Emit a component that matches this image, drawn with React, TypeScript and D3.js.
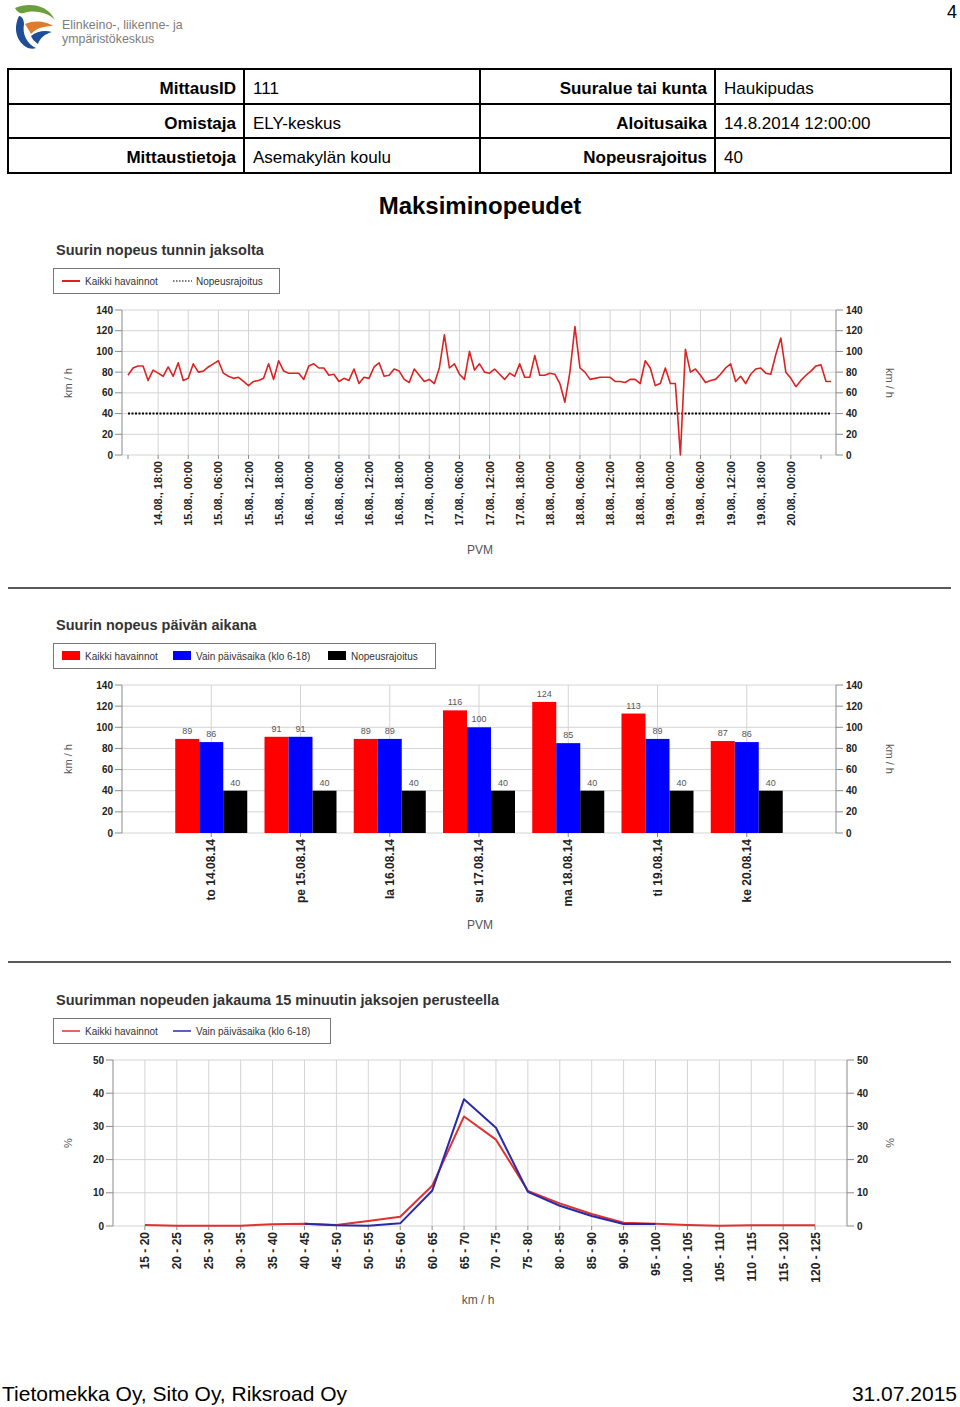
import React from 'react';
import * as d3 from 'd3';

// ---------- DATA ----------
const headerRows = [
  ['MittausID', '111', 'Suuralue tai kunta', 'Haukipudas'],
  ['Omistaja', 'ELY-keskus', 'Aloitusaika', '14.8.2014 12:00:00'],
  ['Mittaustietoja', 'Asemakylän koulu', 'Nopeusrajoitus', '40'],
];

// hourly max speed, starting 14.08. 12:00
const hourlyMax = [
  77, 84, 86, 86, 72, 82, 79, 76, 85, 76, 89, 72, 74, 88, 80, 81, 85, 88, 91, 79,
  76, 74, 75, 71, 67, 71, 72, 74, 88, 73, 91, 81, 79, 79, 79, 73, 86, 88, 84, 84,
  77, 78, 71, 74, 72, 83, 69, 75, 74, 85, 89, 76, 77, 83, 81, 73, 70, 83, 77, 71,
  73, 69, 84, 116, 84, 88, 78, 73, 100, 82, 88, 80, 79, 83, 78, 73, 79, 76, 88, 75,
  75, 96, 77, 77, 79, 78, 69, 51, 80, 124, 84, 80, 73, 74, 75, 75, 75, 71, 71, 70,
  73, 73, 69, 91, 84, 67, 69, 84, 69, 69, 0, 102, 80, 83, 77, 70, 72, 73, 78, 84,
  88, 71, 76, 69, 78, 83, 84, 79, 78, 97, 113, 80, 74, 66, 72, 77, 81, 86, 87, 71,
  71,
];
const hourlySpeedLimit = 40;
const hourTickLabels = [
  '14.08., 18:00', '15.08., 00:00', '15.08., 06:00', '15.08., 12:00', '15.08., 18:00',
  '16.08., 00:00', '16.08., 06:00', '16.08., 12:00', '16.08., 18:00', '17.08., 00:00',
  '17.08., 06:00', '17.08., 12:00', '17.08., 18:00', '18.08., 00:00', '18.08., 06:00',
  '18.08., 12:00', '18.08., 18:00', '19.08., 00:00', '19.08., 06:00', '19.08., 12:00',
  '19.08., 18:00', '20.08., 00:00',
];

const days = ['to 14.08.14', 'pe 15.08.14', 'la 16.08.14', 'su 17.08.14', 'ma 18.08.14', 'ti 19.08.14', 'ke 20.08.14'];
const dayAll = [89, 91, 89, 116, 124, 113, 87];
const dayDaytime = [86, 91, 89, 100, 85, 89, 86];
const dayLimit = [40, 40, 40, 40, 40, 40, 40];

const speedClasses = [
  '15 - 20', '20 - 25', '25 - 30', '30 - 35', '35 - 40', '40 - 45', '45 - 50', '50 - 55',
  '55 - 60', '60 - 65', '65 - 70', '70 - 75', '75 - 80', '80 - 85', '85 - 90', '90 - 95',
  '95 - 100', '100 - 105', '105 - 110', '110 - 115', '115 - 120', '120 - 125',
];
const distAll = [0.3, 0.1, 0.1, 0.1, 0.5, 0.7, 0.3, 1.5, 2.8, 12.1, 33, 26, 10.6, 6.8, 3.6, 1.0, 0.7, 0.3, 0.1, 0.2, 0.2, 0.2];
const distDay: (number | null)[] = [null, null, null, null, null, 0.7, 0.2, 0.1, 0.8, 10.6, 38.2, 29.6, 10.3, 6.1, 3.0, 0.6, 0.6, null, null, null, null, null];

const ticks140 = [0, 20, 40, 60, 80, 100, 120, 140];
const ticks50 = [0, 10, 20, 30, 40, 50];

// ---------- STYLE ----------
const FONT = 'Liberation Sans, Arial, Helvetica, sans-serif';
const GRID = '#d4d4d4';
const AXIS = '#8a8a8a';
const TXT = '#222';

function YAxes({ y, ticks, left, right }: { y: d3.ScaleLinear<number, number>; ticks: number[]; left: number; right: number }) {
  return (
    <g fontFamily={FONT} fontSize={10} fontWeight="bold" fill={TXT}>
      {ticks.map((t) => (
        <line key={'g' + t} x1={left} x2={right} y1={y(t)} y2={y(t)} stroke={GRID} strokeWidth={1} />
      ))}
      <line x1={left} x2={left} y1={y.range()[0]} y2={y.range()[1]} stroke={AXIS} />
      <line x1={right} x2={right} y1={y.range()[0]} y2={y.range()[1]} stroke={AXIS} />
      {ticks.map((t) => (
        <g key={'t' + t}>
          <line x1={left - 7} x2={left} y1={y(t)} y2={y(t)} stroke={AXIS} />
          <line x1={right} x2={right + 7} y1={y(t)} y2={y(t)} stroke={AXIS} />
          <text x={left - 9} y={y(t) + 3.5} textAnchor="end">{t}</text>
          <text x={right + 10} y={y(t) + 3.5} textAnchor="start">{t}</text>
        </g>
      ))}
    </g>
  );
}

function AxisTitles({ cy, label }: { cy: number; label: string }) {
  return (
    <g fontFamily={FONT} fontSize={11} fill="#555">
      <text transform={`translate(72,${cy}) rotate(-90)`} textAnchor="middle">{label}</text>
      <text transform={`translate(886,${cy}) rotate(90)`} textAnchor="middle">{label}</text>
    </g>
  );
}

function Logo() {
  return (
    <g>
      <path d="M15,8 C28,2 48,4 55,20 C50,14 36,9 24,13 C20,14 17,12 15,8 Z" fill="#6a9f3c" />
      <path d="M19,16 C13,28 16,42 28,48 C31,49 34,49 36,48 C27,44 22,34 24,24 C24,20 22,16 19,16 Z" fill="#1f4e96" />
      <path d="M25,24 C34,20 46,21 53,26 C45,26 36,28 31,34 C29,30 27,27 25,24 Z" fill="#e07b2a" />
      <path d="M31,36 C37,31 45,30 52,32 C45,34 40,38 38,44 C35,42 32,39 31,36 Z" fill="#1f4e96" />
      <text x={62} y={29} fontFamily={FONT} fontSize={12.4} fill="#7d7d7d">Elinkeino-, liikenne- ja</text>
      <text x={62} y={43} fontFamily={FONT} fontSize={12.4} fill="#7d7d7d">ympäristökeskus</text>
    </g>
  );
}

function Header() {
  const rowsY = [69, 104, 138, 173];
  return (
    <g fontFamily={FONT} fontSize={17} fill="#000">
      <rect x={8} y={69} width={943} height={104} fill="none" stroke="#000" strokeWidth={2} />
      <line x1={8} x2={951} y1={104} y2={104} stroke="#000" strokeWidth={2} />
      <line x1={8} x2={951} y1={138} y2={138} stroke="#000" strokeWidth={2} />
      {[244, 480, 715].map((x) => (
        <line key={x} x1={x} x2={x} y1={69} y2={173} stroke="#000" strokeWidth={2} />
      ))}
      {headerRows.map((r, i) => {
        const by = (rowsY[i] + rowsY[i + 1]) / 2 + 7.5;
        return (
          <g key={i}>
            <text x={236} y={by} textAnchor="end" fontWeight="bold">{r[0]}</text>
            <text x={253} y={by}>{r[1]}</text>
            <text x={707} y={by} textAnchor="end" fontWeight="bold">{r[2]}</text>
            <text x={724} y={by}>{r[3]}</text>
          </g>
        );
      })}
    </g>
  );
}

function ChartHourly() {
  const x = d3.scaleLinear().domain([0, 138]).range([128, 821]);
  const y = d3.scaleLinear().domain([0, 140]).range([455, 310]);
  const line = d3.line<number>().x((_, i) => x(i)).y((d) => y(d));
  const labeledHours = hourTickLabels.map((_, i) => 6 + i * 6);
  const allTicks = d3.range(0, 139, 6);
  return (
    <g>
      <text x={56} y={255} fontFamily={FONT} fontSize={14.5} fontWeight="bold" fill="#333">Suurin nopeus tunnin jaksolta</text>
      <rect x={53.5} y={268.5} width={226} height={25} fill="#fff" stroke="#777" />
      <line x1={62} x2={80} y1={281} y2={281} stroke="#dd2222" strokeWidth={2} />
      <text x={85} y={284.5} fontFamily={FONT} fontSize={10} fill="#333">Kaikki havainnot</text>
      <line x1={173} x2={192} y1={281} y2={281} stroke="#000" strokeWidth={1.2} strokeDasharray="1.5,1.5" />
      <text x={196} y={284.5} fontFamily={FONT} fontSize={10} fill="#333">Nopeusrajoitus</text>
      {labeledHours.map((h) => (
        <line key={'v' + h} x1={x(h)} x2={x(h)} y1={y(140)} y2={y(0)} stroke={GRID} />
      ))}
      <YAxes y={y} ticks={ticks140} left={122} right={836} />
      {allTicks.map((h) => (
        <line key={'xt' + h} x1={x(h)} x2={x(h)} y1={y(0)} y2={y(0) + 4} stroke={AXIS} />
      ))}
      <line x1={x(0)} x2={x(hourlyMax.length - 1)} y1={y(hourlySpeedLimit)} y2={y(hourlySpeedLimit)} stroke="#000" strokeWidth={2} strokeDasharray="2,1.5" />
      <path d={line(hourlyMax) || ''} fill="none" stroke="#dd2222" strokeWidth={1.6} strokeLinejoin="round" />
      <g fontFamily={FONT} fontSize={11} fontWeight="bold" fill={TXT}>
        {hourTickLabels.map((lab, i) => (
          <text key={lab} transform={`translate(${x(labeledHours[i]) + 4},461) rotate(-90)`} textAnchor="end">{lab}</text>
        ))}
      </g>
      <text x={480} y={554} textAnchor="middle" fontFamily={FONT} fontSize={12} fill="#555">PVM</text>
      <AxisTitles cy={383} label="km / h" />
    </g>
  );
}

function ChartDaily() {
  const x = d3.scaleBand<string>().domain(days).range([122, 836]).paddingOuter(0.5).paddingInner(0);
  const y = d3.scaleLinear().domain([0, 140]).range([833, 685]);
  const bw = 24;
  const series = [
    { vals: dayAll, color: '#ff0000', off: -1.5 },
    { vals: dayDaytime, color: '#0000ff', off: -0.5 },
    { vals: dayLimit, color: '#000000', off: 0.5 },
  ];
  const cx = (d: string) => (x(d) as number) + x.bandwidth() / 2;
  return (
    <g>
      <text x={56} y={630} fontFamily={FONT} fontSize={14.5} fontWeight="bold" fill="#333">Suurin nopeus päivän aikana</text>
      <rect x={53.5} y={643.5} width={382} height={25} fill="#fff" stroke="#777" />
      <rect x={62} y={651} width={18} height={9} fill="#ff0000" />
      <text x={85} y={659.5} fontFamily={FONT} fontSize={10} fill="#333">Kaikki havainnot</text>
      <rect x={173} y={651} width={18} height={9} fill="#0000ff" />
      <text x={196} y={659.5} fontFamily={FONT} fontSize={10} fill="#333">Vain päiväsaika (klo 6-18)</text>
      <rect x={328} y={651} width={18} height={9} fill="#000" />
      <text x={351} y={659.5} fontFamily={FONT} fontSize={10} fill="#333">Nopeusrajoitus</text>
      {days.map((d) => (
        <line key={'v' + d} x1={cx(d)} x2={cx(d)} y1={y(140)} y2={y(0)} stroke={GRID} />
      ))}
      <YAxes y={y} ticks={ticks140} left={122} right={836} />
      {series.map((s, si) =>
        days.map((d, i) => {
          const bx = cx(d) + s.off * bw;
          return (
            <g key={si + '-' + d}>
              <rect x={bx} y={y(s.vals[i])} width={bw} height={y(0) - y(s.vals[i])} fill={s.color} />
              <text x={bx + bw / 2} y={y(s.vals[i]) - 5} textAnchor="middle" fontFamily={FONT} fontSize={9} fill="#555">{s.vals[i]}</text>
            </g>
          );
        })
      )}
      {days.map((d) => (
        <line key={'xt' + d} x1={cx(d)} x2={cx(d)} y1={y(0)} y2={y(0) + 4} stroke={AXIS} />
      ))}
      <g fontFamily={FONT} fontSize={12} fontWeight="bold" fill={TXT}>
        {days.map((d) => (
          <text key={d} transform={`translate(${cx(d) + 4},839) rotate(-90)`} textAnchor="end">{d}</text>
        ))}
      </g>
      <text x={480} y={929} textAnchor="middle" fontFamily={FONT} fontSize={12} fill="#555">PVM</text>
      <AxisTitles cy={759} label="km / h" />
    </g>
  );
}

function ChartDistribution() {
  const x = d3.scaleBand<string>().domain(speedClasses).range([113, 847]).paddingOuter(0.5).paddingInner(0);
  const y = d3.scaleLinear().domain([0, 50]).range([1226, 1060]);
  const cx = (d: string) => (x(d) as number) + x.bandwidth() / 2;
  const lineAll = d3.line<number>().x((_, i) => cx(speedClasses[i])).y((d) => y(d));
  const lineDay = d3
    .line<number | null>()
    .defined((d) => d !== null)
    .x((_, i) => cx(speedClasses[i]))
    .y((d) => y(d as number));
  return (
    <g>
      <text x={56} y={1005} fontFamily={FONT} fontSize={14.5} fontWeight="bold" fill="#333">Suurimman nopeuden jakauma 15 minuutin jaksojen perusteella</text>
      <rect x={53.5} y={1018.5} width={277} height={25} fill="#fff" stroke="#777" />
      <line x1={62} x2={80} y1={1031} y2={1031} stroke="#e03030" strokeWidth={1.5} />
      <text x={85} y={1034.5} fontFamily={FONT} fontSize={10} fill="#333">Kaikki havainnot</text>
      <line x1={173} x2={191} y1={1031} y2={1031} stroke="#2a2aa8" strokeWidth={1.5} />
      <text x={196} y={1034.5} fontFamily={FONT} fontSize={10} fill="#333">Vain päiväsaika (klo 6-18)</text>
      {speedClasses.map((d) => (
        <line key={'v' + d} x1={cx(d)} x2={cx(d)} y1={y(50)} y2={y(0)} stroke={GRID} />
      ))}
      <YAxes y={y} ticks={ticks50} left={113} right={847} />
      {speedClasses.map((d) => (
        <line key={'xt' + d} x1={cx(d)} x2={cx(d)} y1={y(0)} y2={y(0) + 4} stroke={AXIS} />
      ))}
      <path d={lineAll(distAll) || ''} fill="none" stroke="#e03030" strokeWidth={2} strokeLinejoin="round" />
      <path d={lineDay(distDay) || ''} fill="none" stroke="#2a2aa8" strokeWidth={2} strokeLinejoin="round" />
      <g fontFamily={FONT} fontSize={12} fontWeight="bold" fill={TXT}>
        {speedClasses.map((d) => (
          <text key={d} transform={`translate(${cx(d) + 4.5},1232) rotate(-90)`} textAnchor="end">{d}</text>
        ))}
      </g>
      <text x={478} y={1304} textAnchor="middle" fontFamily={FONT} fontSize={12} fill="#555">km / h</text>
      <AxisTitles cy={1143} label="%" />
    </g>
  );
}

export default function App() {
  return (
    <svg
      width={960}
      height={1407}
      viewBox="0 0 960 1407"
      style={{ position: 'absolute', left: 0, top: 0, background: '#fff' }}
    >
      <rect x={0} y={0} width={960} height={1407} fill="#fff" />
      <Logo />
      <text x={957} y={18} textAnchor="end" fontFamily={FONT} fontSize={18} fill="#000">4</text>
      <Header />
      <text x={480} y={214} textAnchor="middle" fontFamily={FONT} fontSize={24} fontWeight="bold" fill="#000">Maksiminopeudet</text>
      <ChartHourly />
      <line x1={8} x2={951} y1={588} y2={588} stroke="#222" strokeWidth={1.5} />
      <ChartDaily />
      <line x1={8} x2={951} y1={962} y2={962} stroke="#222" strokeWidth={1.5} />
      <ChartDistribution />
      <text x={2} y={1401} fontFamily={FONT} fontSize={21} fill="#000">Tietomekka Oy, Sito Oy, Riksroad Oy</text>
      <text x={957} y={1401} textAnchor="end" fontFamily={FONT} fontSize={21} fill="#000">31.07.2015</text>
    </svg>
  );
}
